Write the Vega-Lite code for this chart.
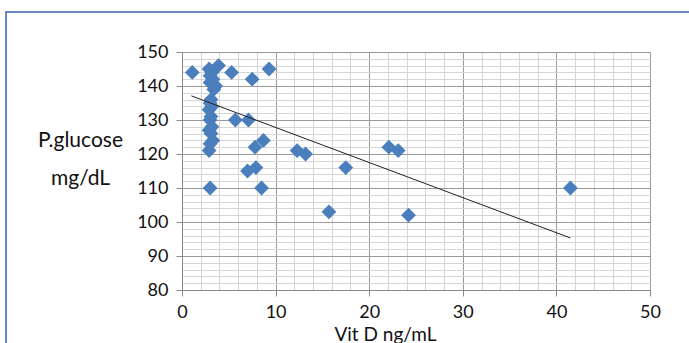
{
  "$schema": "https://vega.github.io/schema/vega-lite/v6.json",
  "autosize": {"type": "none"},
  "padding": {"left": 182, "top": 52, "right": 39, "bottom": 53},
  "width": 468,
  "height": 238,
  "background": "white",
  "config": {
    "view": {"stroke": null},
    "font": "Lato",
    "axis": {"labelFont": "Lato", "titleFont": "Lato", "labelColor": "#111", "titleColor": "#111"}
  },
  "datasets": {
    "points": [
      {"vitd": 1.1, "glucose": 144},
      {"vitd": 2.9, "glucose": 145},
      {"vitd": 3.2, "glucose": 144},
      {"vitd": 3.0, "glucose": 143},
      {"vitd": 3.3, "glucose": 142},
      {"vitd": 3.0, "glucose": 141},
      {"vitd": 3.4, "glucose": 139},
      {"vitd": 3.1, "glucose": 136},
      {"vitd": 3.0, "glucose": 135},
      {"vitd": 3.2, "glucose": 134},
      {"vitd": 2.9, "glucose": 133},
      {"vitd": 3.1, "glucose": 131},
      {"vitd": 3.0, "glucose": 130},
      {"vitd": 3.2, "glucose": 128},
      {"vitd": 2.9, "glucose": 127},
      {"vitd": 3.1, "glucose": 126},
      {"vitd": 3.3, "glucose": 124},
      {"vitd": 3.0, "glucose": 123},
      {"vitd": 2.9, "glucose": 121},
      {"vitd": 3.0, "glucose": 110},
      {"vitd": 3.9, "glucose": 146},
      {"vitd": 3.6, "glucose": 140},
      {"vitd": 5.3, "glucose": 144},
      {"vitd": 7.5, "glucose": 142},
      {"vitd": 9.3, "glucose": 145},
      {"vitd": 5.7, "glucose": 130},
      {"vitd": 7.1, "glucose": 130},
      {"vitd": 7.8, "glucose": 122},
      {"vitd": 8.7, "glucose": 124},
      {"vitd": 7.0, "glucose": 115},
      {"vitd": 7.9, "glucose": 116},
      {"vitd": 8.5, "glucose": 110},
      {"vitd": 12.3, "glucose": 121},
      {"vitd": 13.2, "glucose": 120},
      {"vitd": 17.5, "glucose": 116},
      {"vitd": 15.7, "glucose": 103},
      {"vitd": 22.1, "glucose": 122},
      {"vitd": 23.1, "glucose": 121},
      {"vitd": 24.2, "glucose": 102},
      {"vitd": 41.5, "glucose": 110}
    ],
    "trend": [
      {"vitd": 1.0, "glucose": 137.1},
      {"vitd": 41.5, "glucose": 95.3}
    ]
  },
  "resolve": {"axis": {"x": "independent", "y": "independent"}},
  "layer": [
    {
      "data": {"name": "points"},
      "mark": {"type": "point", "shape": "diamond", "filled": true, "size": 220, "color": "#4a7ebd", "opacity": 1, "strokeWidth": 0},
      "encoding": {
        "x": {
          "field": "vitd", "type": "quantitative",
          "scale": {"domain": [0, 50], "nice": false, "zero": false},
          "axis": {
            "values": [0,2,4,6,8,10,12,14,16,18,20,22,24,26,28,30,32,34,36,38,40,42,44,46,48,50],
            "labelExpr": "datum.value % 10 === 0 ? datum.label : ''",
            "grid": true,
            "gridColor": {"condition": {"test": "datum.value % 10 === 0", "value": "#999999"}, "value": "#d6d6d6"},
            "gridWidth": 1,
            "domainColor": "#8a8a8a",
            "tickColor": "#8a8a8a",
            "tickOpacity": {"condition": {"test": "datum.value % 10 === 0", "value": 1}, "value": 0},
            "tickSize": 6,
            "labelFontSize": 18,
            "labelPadding": 7,
            "labelFlush": false,
            "labelOverlap": false,
            "title": "Vit D ng/mL",
            "titleFontSize": 19,
            "titleFontWeight": "normal",
            "titleX": 203,
            "titleY": 44,
            "titleBaseline": "middle",
            "titleAlign": "center"
          }
        },
        "y": {
          "field": "glucose", "type": "quantitative",
          "scale": {"domain": [80, 150], "nice": false, "zero": false},
          "axis": {
            "values": [80,82,84,86,88,90,92,94,96,98,100,102,104,106,108,110,112,114,116,118,120,122,124,126,128,130,132,134,136,138,140,142,144,146,148,150],
            "labelExpr": "datum.value % 10 === 0 ? datum.label : ''",
            "grid": true,
            "gridColor": {"condition": {"test": "datum.value % 10 === 0", "value": "#999999"}, "value": "#d6d6d6"},
            "gridWidth": 1,
            "domainColor": "#8a8a8a",
            "tickColor": "#8a8a8a",
            "tickOpacity": {"condition": {"test": "datum.value % 10 === 0", "value": 1}, "value": 0},
            "tickSize": 6,
            "labelFontSize": 18,
            "labelPadding": 8,
            "labelFlush": false,
            "labelOverlap": false,
            "title": ["P.glucose", "mg/dL"],
            "titleFontSize": 21,
            "titleFontWeight": "normal",
            "titleAngle": 0,
            "titleX": -102,
            "titleY": 88,
            "titleAlign": "center",
            "titleBaseline": "middle",
            "titleLineHeight": 38
          }
        }
      }
    },
    {
      "data": {"name": "trend"},
      "mark": {"type": "line", "color": "#222222", "strokeWidth": 1},
      "encoding": {
        "x": {"field": "vitd", "type": "quantitative", "axis": null},
        "y": {"field": "glucose", "type": "quantitative", "axis": null}
      }
    },
    {
      "data": {"values": [{}]},
      "mark": {"type": "rect", "fill": null, "stroke": "#3a5fb0", "strokeWidth": 1.5, "clip": false},
      "encoding": {
        "x": {"datum": -18.8, "type": "quantitative", "axis": null},
        "x2": {"datum": 57},
        "y": {"datum": 161.8, "type": "quantitative", "axis": null},
        "y2": {"datum": 60}
      }
    }
  ]
}
